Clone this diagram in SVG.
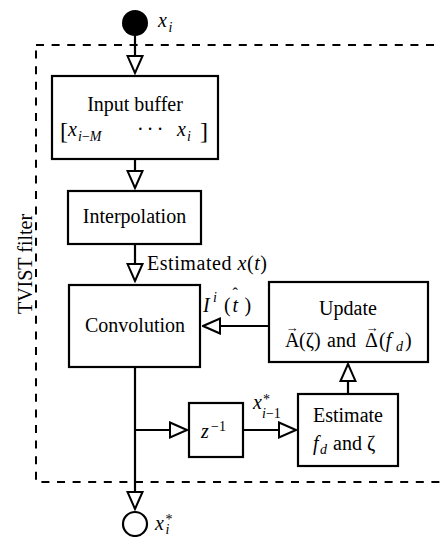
<svg xmlns="http://www.w3.org/2000/svg" width="440" height="537" viewBox="0 0 440 537" font-family="'Liberation Serif', 'DejaVu Serif', serif">
<style>
text{font-family:"Liberation Serif","DejaVu Serif",serif;font-size:20px;fill:#000}
.i{font-style:italic}
.s{font-size:14px}
.box{fill:#fff;stroke:#000;stroke-width:2.2}
.ln{fill:none;stroke:#000;stroke-width:2.2}
.dash{fill:none;stroke:#000;stroke-width:2;stroke-dasharray:8 7.6}
</style>
<defs>
<marker id="tri" markerUnits="userSpaceOnUse" viewBox="0 0 20 18" refX="18.5" refY="9" markerWidth="20" markerHeight="18" orient="auto">
<path d="M1.5,1.5 L18.5,9 L1.5,16.5 Z" fill="#fff" stroke="#000" stroke-width="2"/>
</marker>
</defs>
<rect width="440" height="537" fill="#fff"/>
<rect id="tvist-filter" class="dash" x="36" y="45" width="420" height="437"/>
<text transform="translate(32,264) rotate(-90)" text-anchor="middle">TVIST filter</text>

<g id="connectors">
<line class="ln" x1="135" y1="35" x2="135" y2="73" marker-end="url(#tri)"/>
<line class="ln" x1="135" y1="159" x2="135" y2="188" marker-end="url(#tri)"/>
<line class="ln" x1="135" y1="244" x2="135" y2="281" marker-end="url(#tri)"/>
<line class="ln" x1="269" y1="326" x2="203" y2="326" marker-end="url(#tri)"/>
<line class="ln" x1="135" y1="367" x2="135" y2="509" marker-end="url(#tri)"/>
<line class="ln" x1="135" y1="430" x2="187" y2="430" marker-end="url(#tri)"/>
<line class="ln" x1="243" y1="430" x2="296" y2="430" marker-end="url(#tri)"/>
<line class="ln" x1="348" y1="394" x2="348" y2="364" marker-end="url(#tri)"/>
<text x="147" y="270" textLength="120" lengthAdjust="spacing">Estimated <tspan class="i">x</tspan>(<tspan class="i">t</tspan>)</text>
<g id="label-I">
<text class="i" x="203" y="312">I</text>
<text class="i s" x="213" y="302">i</text>
<text x="224" y="312">(</text>
<text class="i" x="232.5" y="312">t</text>
<text x="232.5" y="299" style="font-size:16px">ˆ</text>
<text x="244.5" y="312">)</text>
</g>
<g id="label-x-prev">
<text class="i" x="253" y="409">x</text>
<text class="s" x="263" y="404">*</text>
<text class="s" x="262" y="418"><tspan class="i">i</tspan>−1</text>
</g>
</g>

<g id="input">
<circle cx="135" cy="23" r="13" fill="#000"/>
<text class="i" x="158" y="27">x</text>
<text class="i s" x="168.5" y="32">i</text>
</g>

<g id="input-buffer">
<rect class="box" x="52" y="76" width="166" height="83"/>
<text x="135" y="111" text-anchor="middle">Input buffer</text>
<text x="60" y="139" style="font-size:24px">[</text>
<text class="i" x="68" y="136">x</text>
<text class="s" x="78" y="141"><tspan class="i">i</tspan>−<tspan class="i">M</tspan></text>
<text x="137" y="136" letter-spacing="3.2">···</text>
<text class="i" x="177" y="136">x</text>
<text class="i s" x="187" y="141">i</text>
<text x="200" y="139" style="font-size:24px">]</text>
</g>

<g id="interpolation">
<rect class="box" x="68" y="191" width="133" height="53"/>
<text x="134.5" y="223" text-anchor="middle">Interpolation</text>
</g>

<g id="convolution">
<rect class="box" x="69" y="285" width="131" height="82"/>
<text x="135" y="332" text-anchor="middle">Convolution</text>
</g>

<g id="update">
<rect class="box" x="269" y="282" width="159" height="80"/>
<text x="348" y="315" text-anchor="middle">Update</text>
<text x="285" y="347">A</text>
<text x="285.5" y="332" style="font-size:13px">→</text>
<text x="299" y="347">(ζ)</text>
<text x="327" y="347">and</text>
<text x="365" y="347">Δ</text>
<text x="365.5" y="332" style="font-size:13px">→</text>
<text x="379" y="347">(<tspan class="i">f</tspan></text>
<text class="i s" x="396" y="351">d</text>
<text x="405" y="347">)</text>
</g>

<g id="delay">
<rect class="box" x="189" y="403" width="54" height="54"/>
<text class="i" x="201" y="438">z</text>
<text class="s" x="211" y="431">−1</text>
</g>

<g id="estimate">
<rect class="box" x="298" y="394" width="100" height="72"/>
<text x="348" y="422" text-anchor="middle">Estimate</text>
<text class="i" x="313" y="450">f</text>
<text class="i s" x="320" y="454">d</text>
<text x="333" y="450">and ζ</text>
</g>

<g id="output">
<circle cx="135" cy="524" r="12" fill="#fff" stroke="#000" stroke-width="2.2"/>
<text class="i" x="155" y="530">x</text>
<text class="s" x="165.5" y="524">*</text>
<text class="i s" x="165.5" y="534">i</text>
</g>
</svg>
